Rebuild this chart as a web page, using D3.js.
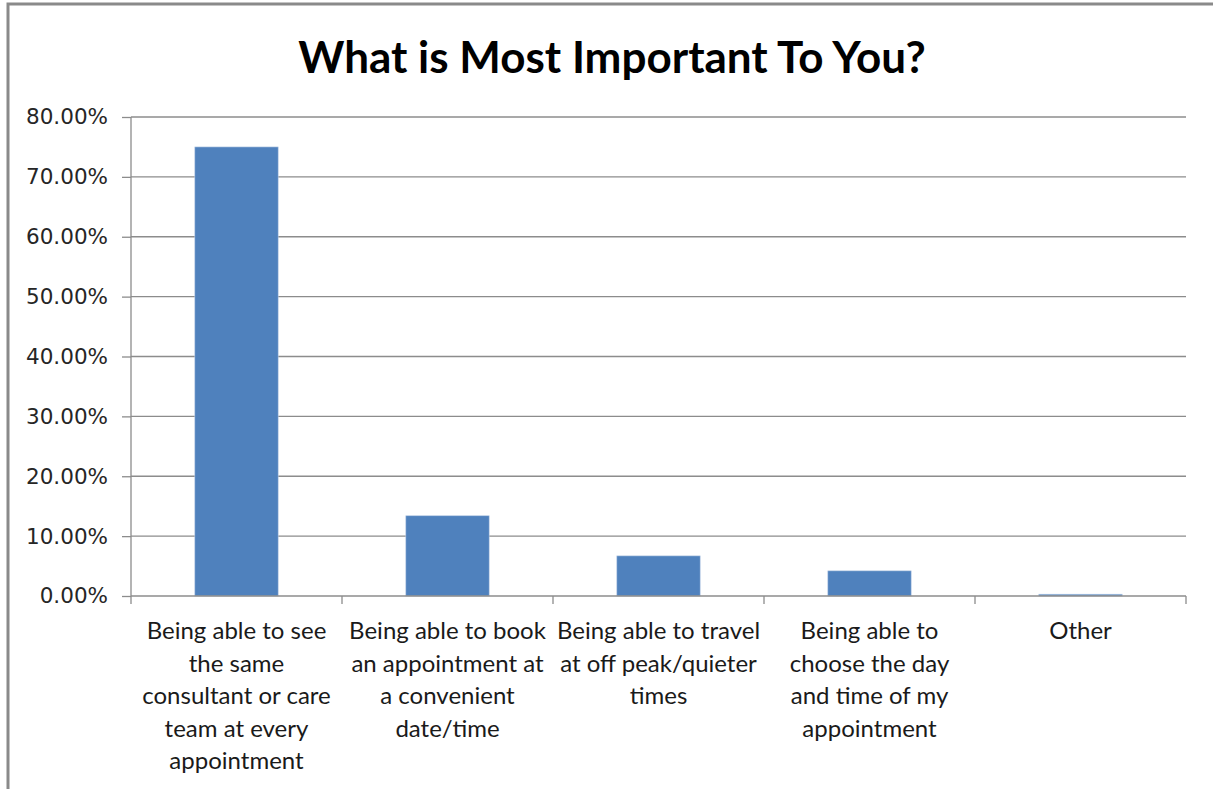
<!DOCTYPE html>
<html>
<head>
<meta charset="utf-8">
<script src="https://cdn.jsdelivr.net/npm/d3@7"></script>
<style>
  html, body { margin: 0; padding: 0; background: #fff; }
  svg { display: block; }
</style>
</head>
<body>
<svg id="chart" width="1213" height="789"></svg>
<script>
// Survey answers, one bar per option
const categories = [
  ["Being able to see", "the same", "consultant or care", "team at every", "appointment"],
  ["Being able to book", "an appointment at", "a convenient", "date/time"],
  ["Being able to travel", "at off peak/quieter", "times"],
  ["Being able to", "choose the day", "and time of my", "appointment"],
  ["Other"]
];
const values = [75.0, 13.4, 6.7, 4.2, 0.3];
const yTicks = [0, 10, 20, 30, 40, 50, 60, 70, 80];
const title = "What is Most Important To You?";

const svg = d3.select("#chart");
const W = 1213, H = 789;
const margin = { left: 131, right: 27, top: 117, bottom: 193 };
const innerW = W - margin.left - margin.right;
const innerH = H - margin.top - margin.bottom;

// Outer frame
svg.append("path")
  .attr("d", `M8,${H} L8,4 L${W},4`)
  .attr("fill", "none")
  .attr("stroke", "#8a8a8a")
  .attr("stroke-width", 3);

svg.append("text")
  .attr("x", 612)
  .attr("y", 73)
  .attr("text-anchor", "middle")
  .attr("font-family", "Lato, 'Open Sans', sans-serif")
  .attr("font-weight", "bold")
  .attr("font-size", 44)
  .attr("fill", "#000")
  .text(title);

const g = svg.append("g").attr("transform", `translate(${margin.left},${margin.top})`);

const x = d3.scaleBand()
  .domain(d3.range(values.length))
  .range([0, innerW])
  .paddingInner(0.605)
  .paddingOuter(0.3025);

const y = d3.scaleLinear().domain([0, 80]).range([innerH, 0]);

// Horizontal gridlines
g.append("g")
  .selectAll("line")
  .data(yTicks.slice(1))
  .join("line")
  .attr("x1", 0).attr("x2", innerW)
  .attr("y1", d => y(d)).attr("y2", d => y(d))
  .attr("stroke", "#8c8c8c")
  .attr("stroke-width", 1.3);

// Bars
g.append("g")
  .selectAll("rect")
  .data(values)
  .join("rect")
  .attr("x", (d, i) => x(i))
  .attr("y", d => y(d))
  .attr("width", x.bandwidth())
  .attr("height", d => innerH - y(d))
  .attr("fill", "#4f81bd")
  .attr("stroke", "#b9cde5")
  .attr("stroke-width", 0.6);

// Y axis
const yAxis = g.append("g")
  .call(d3.axisLeft(y).tickValues(yTicks).tickSize(9).tickPadding(14)
    .tickFormat(d => d.toFixed(2) + "%"));
yAxis.selectAll(".domain").attr("stroke", "#8c8c8c").attr("stroke-width", 1.3)
  .attr("d", `M0,0V${innerH}`);
yAxis.selectAll(".tick line").attr("stroke", "#8c8c8c").attr("stroke-width", 1.3);
yAxis.selectAll(".tick text")
  .attr("font-family", "'DejaVu Sans', Verdana, sans-serif")
  .attr("font-size", 21.5)
  .attr("fill", "#262626");

// X axis baseline with category boundary ticks
const boundaries = d3.range(values.length + 1).map(i => i * innerW / values.length);
const xAxisG = g.append("g").attr("transform", `translate(0,${innerH})`);
xAxisG.append("line")
  .attr("x1", 0).attr("x2", innerW)
  .attr("stroke", "#8c8c8c").attr("stroke-width", 1.3);
xAxisG.selectAll("line.bnd")
  .data(boundaries)
  .join("line")
  .attr("class", "bnd")
  .attr("x1", d => d).attr("x2", d => d)
  .attr("y1", 0).attr("y2", 8)
  .attr("stroke", "#8c8c8c").attr("stroke-width", 1.3);

// Category labels
const labels = xAxisG.selectAll("text.cat")
  .data(categories)
  .join("text")
  .attr("class", "cat")
  .attr("text-anchor", "middle")
  .attr("font-family", "Lato, 'Open Sans', sans-serif")
  .attr("font-size", 24)
  .attr("fill", "#1a1a1a")
  .attr("transform", (d, i) => `translate(${x(i) + x.bandwidth() / 2},43)`);
labels.selectAll("tspan")
  .data(d => d)
  .join("tspan")
  .attr("x", 0)
  .attr("y", (d, i) => i * 32.5)
  .text(d => d);
</script>
</body>
</html>
